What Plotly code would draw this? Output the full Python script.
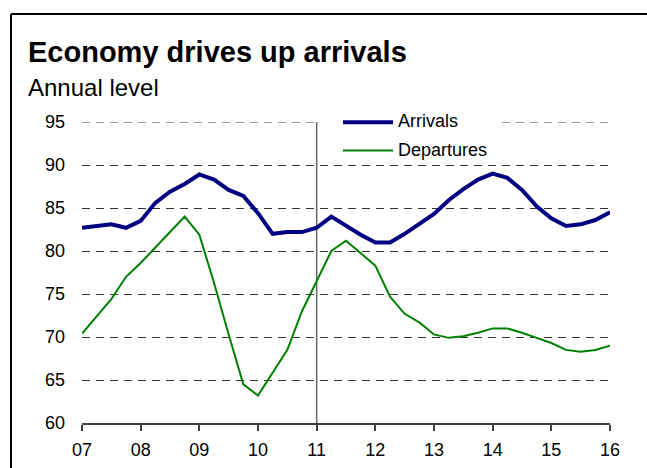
import plotly.graph_objects as go

# Quarterly observations, 2007 Q1 through 2016 Q1 (x in years since 2000)
quarters = [7.0, 7.25, 7.5, 7.75, 8.0, 8.25, 8.5, 8.75, 9.0, 9.25, 9.5, 9.75,
            10.0, 10.25, 10.5, 10.75, 11.0, 11.25, 11.5, 11.75, 12.0, 12.25,
            12.5, 12.75, 13.0, 13.25, 13.5, 13.75, 14.0, 14.25, 14.5, 14.75,
            15.0, 15.25, 15.5, 15.75, 16.0]

arrivals = [82.7, 82.9, 83.1, 82.7, 83.5, 85.6, 86.9, 87.8, 88.9, 88.3, 87.1, 86.4,
            84.4, 82.0, 82.2, 82.2, 82.7, 84.0, 82.9, 81.9, 81.0, 81.0,
            82.0, 83.1, 84.3, 85.9, 87.2, 88.3, 89.0, 88.5, 87.1, 85.2,
            83.8, 82.9, 83.1, 83.6, 84.5]

departures = [70.4, 72.4, 74.4, 77.0, 78.6, 80.4, 82.2, 84.0, 81.9, 76.3, 70.3, 64.5,
              63.2, 65.8, 68.5, 73.0, 76.5, 80.0, 81.2, 79.8, 78.3, 74.7,
              72.7, 71.7, 70.3, 69.9, 70.1, 70.5, 71.0, 71.0, 70.5, 69.9,
              69.3, 68.5, 68.3, 68.5, 69.0]

year_ticks = [7, 8, 9, 10, 11, 12, 13, 14, 15, 16]
year_labels = ["07", "08", "09", "10", "11", "12", "13", "14", "15", "16"]
y_ticks = [60, 65, 70, 75, 80, 85, 90, 95]

NAVY = "#000080"
GREEN = "#008000"
GRID = "#333333"
GRID_DASH = "8px,6px"
FONT = "Liberation Sans, Arial, sans-serif"

W, H = 647, 468
ML, MR, MT, MB = 82, 37, 122, 45
PW, PH = W - ML - MR, H - MT - MB


def px(xp):
    return (xp - ML) / PW


def py(yp):
    return 1 - (yp - MT) / PH


fig = go.Figure()
fig.add_trace(go.Scatter(x=quarters, y=arrivals, mode="lines", name="Arrivals",
                         line=dict(color=NAVY, width=4), showlegend=False))
fig.add_trace(go.Scatter(x=quarters, y=departures, mode="lines", name="Departures",
                         line=dict(color=GREEN, width=2), showlegend=False))

shapes = [
    # top gridline sits on the range edge, so draw it explicitly
    dict(type="line", xref="x", yref="y", x0=year_ticks[0], x1=year_ticks[-1],
         y0=y_ticks[-1], y1=y_ticks[-1], line=dict(color=GRID, width=1, dash=GRID_DASH),
         layer="below"),
    # vertical marker at 2011
    dict(type="line", xref="x", yref="y", x0=11, x1=11, y0=60, y1=95,
         line=dict(color="#666666", width=1.5), layer="below"),
    # legend backdrop
    dict(type="rect", xref="paper", yref="paper", x0=px(320), x1=px(497),
         y0=py(112), y1=py(160), fillcolor="white", line=dict(width=0), layer="above"),
    # legend samples
    dict(type="line", xref="paper", yref="paper", x0=px(343), x1=px(393),
         y0=py(122.3), y1=py(122.3), line=dict(color=NAVY, width=4), layer="above"),
    dict(type="line", xref="paper", yref="paper", x0=px(343), x1=px(393),
         y0=py(150.5), y1=py(150.5), line=dict(color=GREEN, width=2), layer="above"),
    # outer frame: left and top edges
    dict(type="line", xref="paper", yref="paper", x0=px(11), x1=px(11),
         y0=py(14), y1=py(470), line=dict(color="black", width=2)),
    dict(type="line", xref="paper", yref="paper", x0=px(11), x1=px(650),
         y0=py(14), y1=py(14), line=dict(color="black", width=2)),
]

annotations = [
    dict(text="<b>Economy drives up arrivals</b>", xref="paper", yref="paper",
         x=px(26), y=py(52), xanchor="left", yanchor="middle", showarrow=False,
         font=dict(family=FONT, size=29, color="black")),
    dict(text="Annual level", xref="paper", yref="paper",
         x=px(26), y=py(87), xanchor="left", yanchor="middle", showarrow=False,
         font=dict(family=FONT, size=24, color="black")),
    dict(text="Arrivals", xref="paper", yref="paper",
         x=px(396), y=py(121.5), xanchor="left", yanchor="middle", showarrow=False,
         font=dict(family=FONT, size=18, color="black")),
    dict(text="Departures", xref="paper", yref="paper",
         x=px(396), y=py(149.5), xanchor="left", yanchor="middle", showarrow=False,
         font=dict(family=FONT, size=18, color="black")),
]

fig.update_layout(
    width=W, height=H,
    margin=dict(l=ML, r=MR, t=MT, b=MB, pad=0),
    paper_bgcolor="white", plot_bgcolor="white",
    showlegend=False,
    font=dict(family=FONT, size=18, color="black"),
    shapes=shapes, annotations=annotations,
    xaxis=dict(range=[7, 16], tickmode="array", tickvals=year_ticks, ticktext=year_labels,
               showgrid=False, zeroline=False, showline=True, linecolor="#404040",
               linewidth=1.5, ticks="outside", ticklen=6, tickwidth=1.5,
               tickcolor="#404040", ticklabelstandoff=4, automargin=False,
               tickfont=dict(family=FONT, size=18, color="black")),
    yaxis=dict(range=[60, 95], tickmode="array", tickvals=y_ticks,
               showgrid=True, gridcolor=GRID, gridwidth=1, griddash=GRID_DASH,
               zeroline=False, showline=False, ticks="", ticklabelstandoff=16,
               automargin=False,
               tickfont=dict(family=FONT, size=18, color="black")),
)

fig.write_html("out.html")
